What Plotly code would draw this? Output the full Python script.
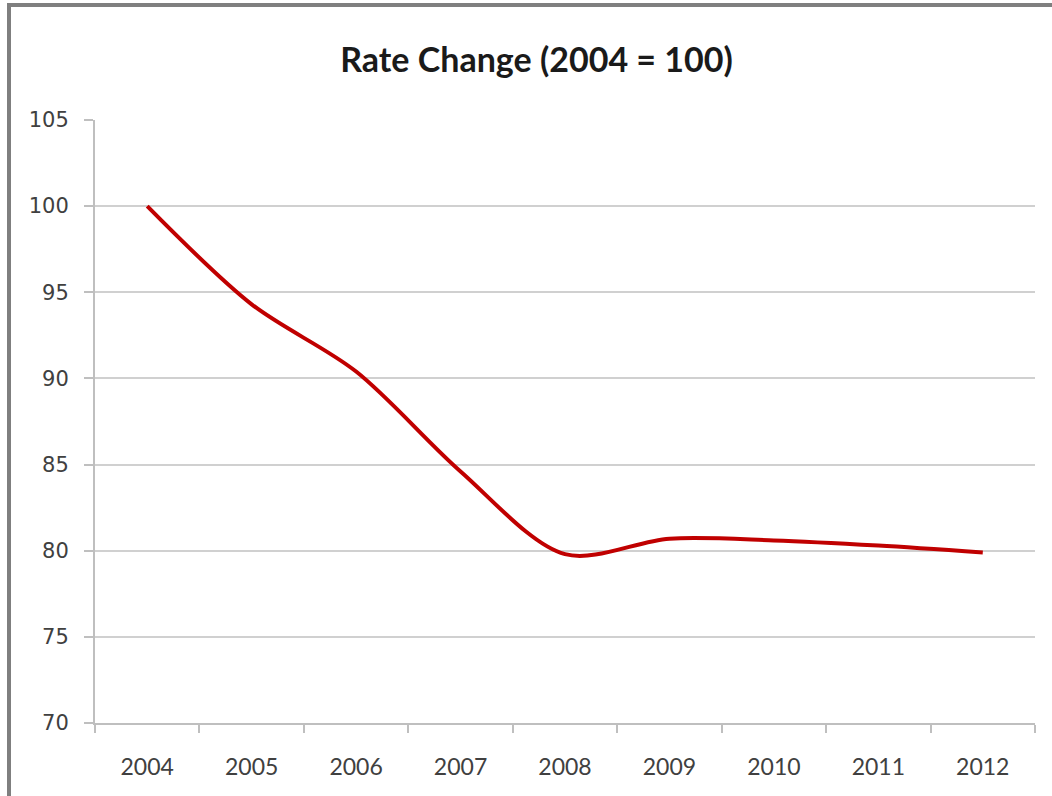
import plotly.graph_objects as go

years = ["2004", "2005", "2006", "2007", "2008", "2009", "2010", "2011", "2012"]
rate_index = [100, 94.3, 90.4, 84.6, 79.8, 80.7, 80.6, 80.3, 79.9]
y_ticks = [70, 75, 80, 85, 90, 95, 100, 105]

fig = go.Figure()
fig.add_trace(go.Scatter(
    x=years, y=rate_index, mode="lines",
    line=dict(color="#C00000", width=4, shape="spline", smoothing=0.9),
    showlegend=False, hoverinfo="x+y",
))

fig.update_layout(
    width=1052, height=796,
    margin=dict(l=95, r=17, t=120, b=73),
    paper_bgcolor="white", plot_bgcolor="white",
    title=dict(text="<b>Rate Change (2004 = 100)</b>", x=0.51, xanchor="center",
               y=1 - 60 / 796, yanchor="middle",
               font=dict(family="Lato", size=34, color="#1a1a1a")),
    xaxis=dict(type="category", range=[-0.5, 8.5], showgrid=False, showline=True,
               linecolor="#BFBFBF", linewidth=2,
               ticks="outside", tickson="boundaries", ticklen=8, tickcolor="#BFBFBF", tickwidth=1.5,
               ticklabelstandoff=22,
               tickfont=dict(family="Lato", size=23, color="#404040"), fixedrange=True),
    yaxis=dict(range=[70, 105], tickvals=y_ticks, showgrid=True, gridcolor="#D0D0D0", gridwidth=2,
               showline=True, linecolor="#BFBFBF", linewidth=2, ticks="outside", ticklen=9,
               tickcolor="#BFBFBF", tickwidth=1.5, zeroline=False, ticklabelstandoff=11,
               tickfont=dict(family="DejaVu Sans", size=21, color="#404040"), fixedrange=True),
    shapes=[
        dict(type="line", xref="paper", yref="paper", x0=(9 - 95) / 940, x1=(9 - 95) / 940,
             y0=(723 - 3) / 603, y1=(723 - 800) / 603, line=dict(color="#7F7F7F", width=4)),
        dict(type="line", xref="paper", yref="paper", x0=(7 - 95) / 940, x1=(1060 - 95) / 940,
             y0=(723 - 5) / 603, y1=(723 - 5) / 603, line=dict(color="#7F7F7F", width=4)),
    ],
)

fig.write_html("out.html")
